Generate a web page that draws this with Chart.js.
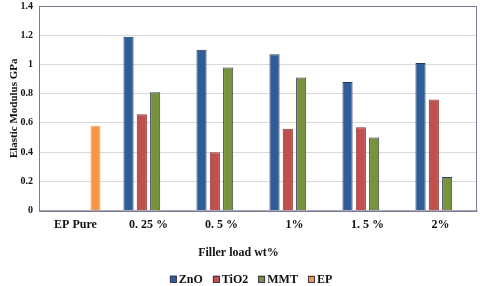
<!DOCTYPE html>
<html><head><meta charset="utf-8">
<script src="https://cdn.jsdelivr.net/npm/chart.js@4/dist/chart.umd.min.js"></script>
<style>html,body{margin:0;padding:0;background:#fff;}#wrap{width:480px;height:286px;}</style>
</head><body><div id="wrap"><canvas id="c"></canvas></div>
<script>
const categories = ["EP Pure", "0. 25 %", "0. 5 %", "1%", "1. 5 %", "2%"];
const znoValues  = [null, 1.19, 1.10, 1.07, 0.88, 1.01];
const tio2Values = [null, 0.66, 0.40, 0.56, 0.57, 0.76];
const mmtValues  = [null, 0.81, 0.98, 0.91, 0.50, 0.23];
const epValues   = [0.58, null, null, null, null, null];
const yTicks = [0, 0.2, 0.4, 0.6, 0.8, 1, 1.2, 1.4];

const serif = "'Liberation Serif', 'Times New Roman', serif";
const frame = {
  id: 'frame',
  afterDraw(chart) {
    const a = chart.chartArea, ctx = chart.ctx;
    ctx.save();
    ctx.strokeStyle = '#7d7b8f';
    ctx.lineWidth = 1;
    ctx.strokeRect(Math.round(a.left)+0.5, Math.round(a.top)+0.5, Math.round(a.right-a.left)-1, Math.round(a.bottom-a.top));
    ctx.restore();
  }
};
const legendPlugin = {
  id: 'compactLegend',
  afterDraw(chart) {
    const ctx = chart.ctx;
    ctx.save();
    ctx.font = 'bold 12px ' + serif;
    ctx.textBaseline = 'middle';
    const box = 7, gapText = 2, gapItem = 10;
    const items = chart.data.datasets.map(d => ({label: d.label, fill: d.backgroundColor, w: box + gapText + ctx.measureText(d.label).width}));
    const total = items.reduce((s, it) => s + it.w, 0) + gapItem * (items.length - 1);
    let x = 251 - total / 2;
    const y = 279;
    items.forEach(it => {
      ctx.fillStyle = it.fill;
      ctx.fillRect(x, y - box/2, box, box);
      ctx.strokeStyle = '#3b3a58';
      ctx.lineWidth = 1;
      ctx.strokeRect(Math.round(x) + 0.5, Math.round(y - box/2) + 0.5, box - 1, box - 1);
      ctx.fillStyle = '#111';
      ctx.fillText(it.label, x + box + gapText, y + 1);
      x += it.w + gapItem;
    });
    ctx.restore();
  }
};
new Chart(document.getElementById('c'), {
  type: 'bar',
  data: {
    labels: categories,
    datasets: [
      {label: 'ZnO', data: znoValues, backgroundColor: '#2f5d97', borderColor: '#1f3a66', borderWidth: 1},
      {label: 'TiO2', data: tio2Values, backgroundColor: '#c0504d', borderColor: '#8c3432', borderWidth: 1},
      {label: 'MMT', data: mmtValues, backgroundColor: '#77933c', borderColor: '#3b3a58', borderWidth: 1},
      {label: 'EP', data: epValues, backgroundColor: '#f79646', borderColor: '#e8b080', borderWidth: 1}
    ]
  },
  options: {
    responsive: true, maintainAspectRatio: false, animation: false,
    categoryPercentage: 0.73, barPercentage: 0.76,
    layout: {padding: {left: 0, right: 3, top: 6, bottom: 22}},
    plugins: {
      legend: {display: false},
      tooltip: {enabled: false},
      title: {display: true, position: 'bottom', text: 'Filler load wt%', font: {family: serif, size: 12, weight: 'bold'}, color: '#111', padding: {top: 7, bottom: 4}}
    },
    scales: {
      x: {
        afterFit(axis) { axis.height = 28; axis.paddingLeft = 0; axis.paddingRight = 0; },
        grid: {display: false, drawTicks: false},
        border: {color: '#a9a7b8'},
        ticks: {font: {family: serif, size: 12, weight: 'bold'}, color: '#111', padding: 7, maxRotation: 0}
      },
      y: {
        min: 0, max: 1.4,
        afterBuildTicks(axis) { axis.ticks = yTicks.map(v => ({value: v})); },
        afterFit(axis) { axis.width = 39; axis.paddingTop = 0; axis.paddingBottom = 0; },
        grid: {color: '#d9d9d9', drawTicks: false},
        border: {display: false},
        ticks: {font: {family: serif, size: 10, weight: 'bold'}, color: '#111', padding: 6,
                callback: v => String(v)},
        title: {display: true, text: 'Elastic Modulus GPa', font: {family: serif, size: 11, weight: 'bold'}, color: '#111', padding: {top: 8, bottom: 0}}
      }
    }
  },
  plugins: [frame, legendPlugin]
});
</script></body></html>
